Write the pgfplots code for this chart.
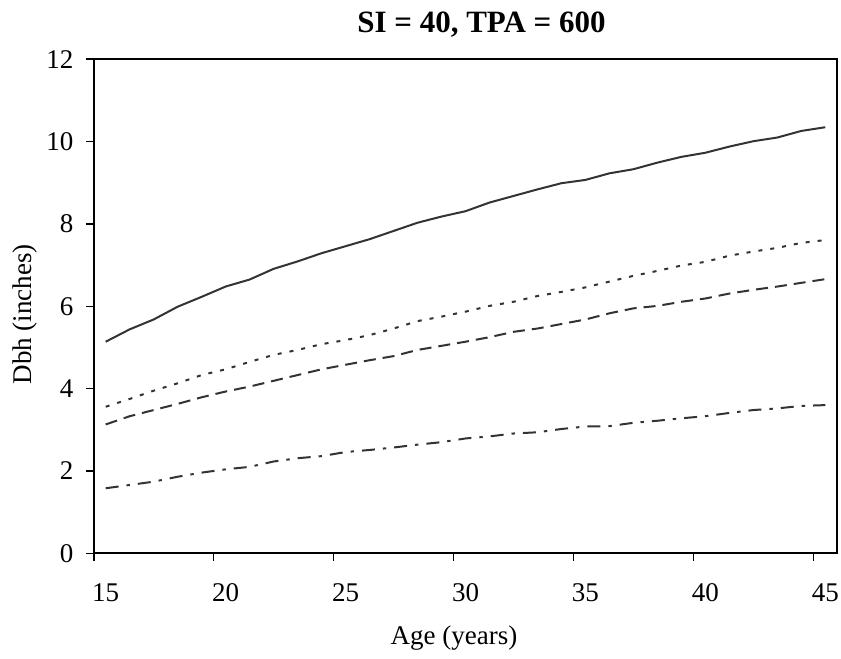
\documentclass[border=0pt]{standalone}
\usepackage{pgfplots}
\pgfplotsset{compat=1.18}
\usepackage{fontspec}
\setmainfont{Liberation Serif}
\definecolor{ln}{HTML}{333333}
\begin{document}
\begin{tikzpicture}
\begin{axis}[
  scale only axis,
  width=371.8pt, height=247pt,
  xmin=14.5, xmax=45.5, ymin=0, ymax=12,
  axis line style={line width=1pt, black},
  tick style={line width=0.8pt, black},
  tick align=outside,
  major tick length=3.85pt,
  xtick pos=bottom, ytick pos=left,
  xtick={14.5,19.5,24.5,29.5,34.5,39.5,44.5},
  xticklabels={},
  extra x ticks={15,20,25,30,35,40,45},
  extra x tick labels={15,20,25,30,35,40,45},
  extra x tick style={major tick length=0pt, xticklabel style={anchor=center, inner sep=0pt, yshift=-19.6pt}},
  ytick={0,2,4,6,8,10,12},
  yticklabel style={anchor=east, inner sep=0pt, xshift=-6.1pt},
  /pgf/number format/assume math mode=true,
  tick label style={font=\fontsize{13.5}{16}\selectfont},
  label style={font=\fontsize{13.5}{16}\selectfont},
  title style={font=\fontsize{15.5}{18}\selectfont\bfseries, at={(0.5215,1)}, anchor=center, inner sep=0pt, yshift=11.5pt},
  title={SI = 40, TPA = 600},
  xlabel={Age (years)},
  xlabel style={at={(0.4845,0)}, anchor=center, inner sep=0pt, yshift=-42.3pt},
  ylabel={Dbh (inches)},
  ylabel style={at={(0,0.484)}, anchor=center, inner sep=0pt, yshift=34.35pt},
  every axis plot/.append style={ln, line width=1pt, line join=round},
]
% solid
\addplot[solid] coordinates {
(15,5.14)(16,5.44)(17,5.68)(18,5.99)(19,6.23)(20,6.48)(21,6.65)(22,6.91)(23,7.09)(24,7.29)
(25,7.46)(26,7.63)(27,7.83)(28,8.03)(29,8.18)(30,8.31)(31,8.52)(32,8.68)(33,8.84)(34,8.99)
(35,9.07)(36,9.23)(37,9.33)(38,9.49)(39,9.63)(40,9.73)(41,9.88)(42,10.01)(43,10.10)(44,10.26)(45,10.35)};
% dotted
\addplot[dash pattern=on 2pt off 4pt] coordinates {
(15,3.56)(16,3.75)(17,3.95)(18,4.13)(19,4.33)(20,4.47)(21,4.65)(22,4.82)(23,4.94)(24,5.08)
(25,5.18)(26,5.30)(27,5.46)(28,5.64)(29,5.75)(30,5.87)(31,6.01)(32,6.11)(33,6.25)(34,6.35)
(35,6.46)(36,6.60)(37,6.74)(38,6.86)(39,6.99)(40,7.08)(41,7.23)(42,7.33)(43,7.42)(44,7.54)(45,7.61)};
% dashed
\addplot[dash pattern=on 6pt off 3.5pt] coordinates {
(15,3.13)(16,3.33)(17,3.48)(18,3.63)(19,3.79)(20,3.93)(21,4.05)(22,4.19)(23,4.33)(24,4.47)
(25,4.58)(26,4.69)(27,4.79)(28,4.94)(29,5.04)(30,5.14)(31,5.25)(32,5.38)(33,5.46)(34,5.57)
(35,5.68)(36,5.83)(37,5.95)(38,6.01)(39,6.11)(40,6.19)(41,6.31)(42,6.40)(43,6.48)(44,6.57)(45,6.66)};
% dash-dot
\addplot[dash pattern=on 6.5pt off 4pt on 1.7pt off 4pt] coordinates {
(15,1.58)(16,1.66)(17,1.74)(18,1.86)(19,1.96)(20,2.04)(21,2.10)(22,2.23)(23,2.31)(24,2.36)
(25,2.46)(26,2.51)(27,2.57)(28,2.64)(29,2.70)(30,2.79)(31,2.84)(32,2.91)(33,2.94)(34,3.02)
(35,3.08)(36,3.09)(37,3.17)(38,3.22)(39,3.28)(40,3.33)(41,3.41)(42,3.48)(43,3.52)(44,3.58)(45,3.60)};
\end{axis}
\pgfresetboundingbox
\path ([xshift=-46.85pt, yshift=-52.35pt]current axis.south west) rectangle ([xshift=1.85pt, yshift=29.65pt]current axis.north east);
\end{tikzpicture}
\end{document}
